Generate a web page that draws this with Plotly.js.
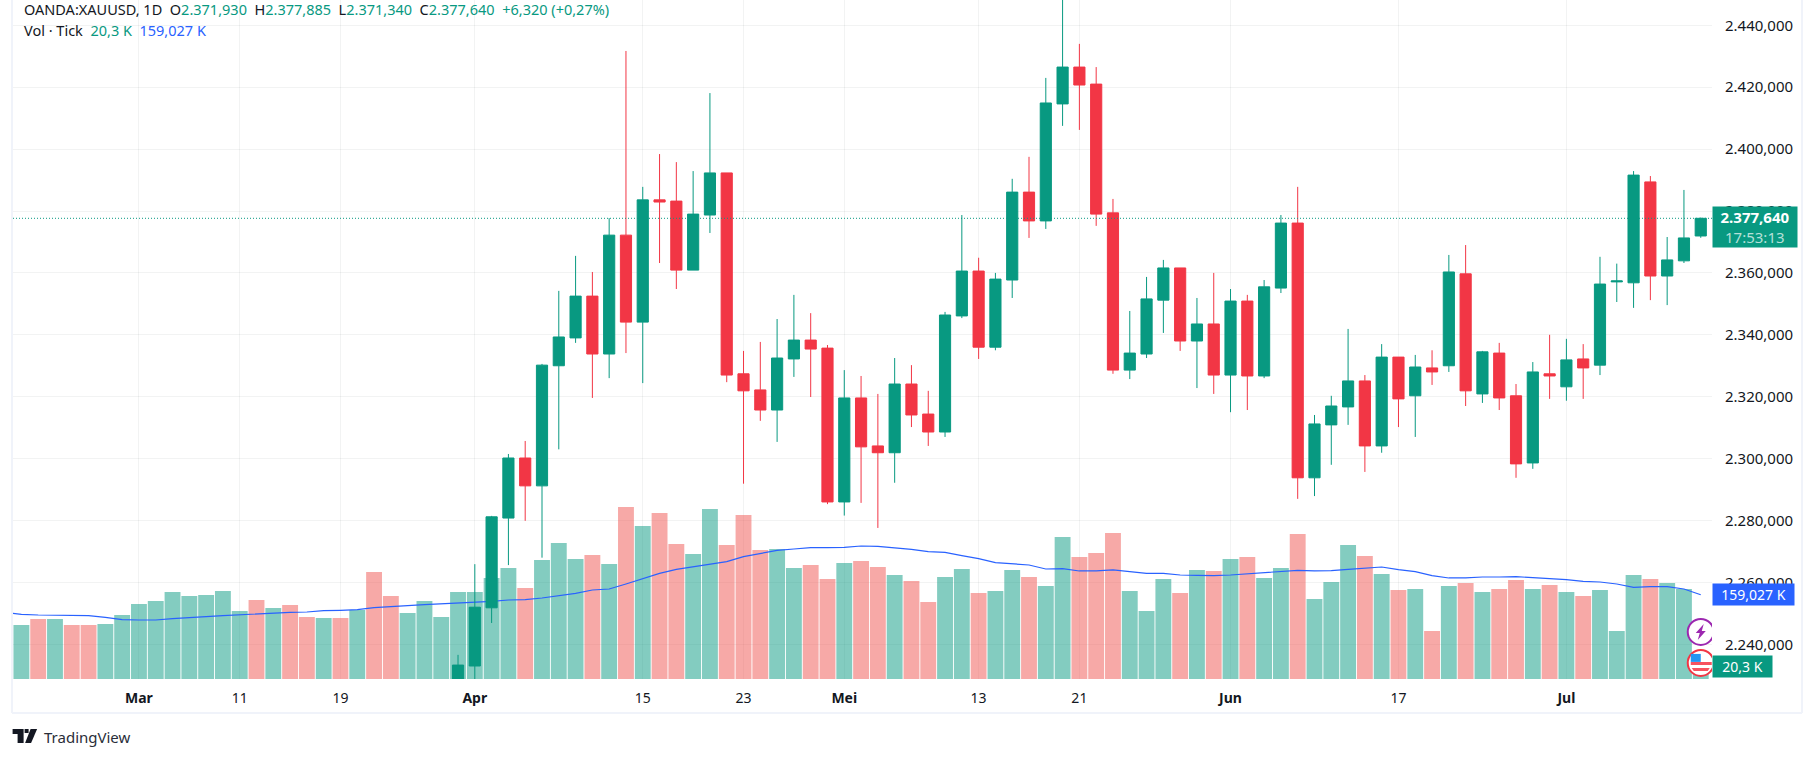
<!DOCTYPE html>
<html>
<head>
<meta charset="utf-8">
<script src="https://cdn.plot.ly/plotly-3.0.1.min.js"></script>
<style>
    html, body { margin: 0; padding: 0; background: #fff; }
    #chart { width: 1815px; height: 758px; }
</style>
</head>
<body>
<div id="chart"></div>
<script>
'use strict';

// candles before index 26 sit below the visible price range
const CANDLE_START = 26;

const opens = [
    2225, 2233.0, 2251.8, 2280.8, 2300.2, 2291.2, 2330, 2339, 2352.5, 2333.8,
    2372.2, 2344.1, 2383.6, 2383.2, 2360.9, 2378.7, 2392.3, 2327.4, 2322.2, 2315.7,
    2332.2, 2338.3, 2335.7, 2286, 2319.6, 2304.1, 2301.9, 2324.1, 2314.4, 2308.6,
    2346.1, 2360.6, 2336, 2357.7, 2386.1, 2376.8, 2414.6, 2426.5, 2421, 2379.4,
    2328.6, 2333.8, 2351.2, 2361.6, 2338, 2343.5, 2327, 2350.9, 2326.7, 2355.1,
    2376.1, 2293.8, 2310.9, 2316.7, 2325.1, 2304.1, 2332.8, 2320.3, 2329.3, 2330,
    2359.7, 2320.9, 2334.1, 2320.3, 2298.6, 2327.4, 2323.2, 2332.2, 2330.2, 2357.1,
    2356.8, 2389.4, 2359, 2363.9, 2371.93
];
const highs = [
    2236.6, 2265.9, 2281.5, 2301.5, 2305.7, 2330.6, 2354.2, 2365.5, 2360.3, 2377.7,
    2431.7, 2387.8, 2398.4, 2395.8, 2392.9, 2418.1, 2392.3, 2334.8, 2337.7, 2345.1,
    2352.9, 2347, 2336.7, 2328.6, 2326.7, 2320.9, 2332.5, 2330.2, 2321.9, 2347.4,
    2378.7, 2364.9, 2360, 2390.4, 2397.5, 2423, 2450, 2434, 2426.5, 2383.9,
    2347.7, 2358.7, 2364.2, 2361.6, 2351.9, 2360, 2354.8, 2352.9, 2357.7, 2378.7,
    2387.8, 2314.1, 2320.3, 2341.9, 2327, 2337, 2332.8, 2333.5, 2335, 2365.8,
    2369, 2334.8, 2337.4, 2324.1, 2331.2, 2340, 2338.7, 2337, 2365.2, 2363,
    2392.9, 2391.3, 2371.6, 2386.8, 2377.885
];
const lows = [
    2220, 2226, 2246.9, 2265.6, 2279.9, 2268, 2303, 2337.4, 2319.6, 2326,
    2334.1, 2324.4, 2363.2, 2354.8, 2360.9, 2372.9, 2324.7, 2291.9, 2312.2, 2305.4,
    2326.4, 2319.9, 2285.3, 2281.6, 2285.7, 2277.6, 2292.2, 2310.2, 2304.1, 2307,
    2345.4, 2332.2, 2335, 2351.9, 2371.3, 2374.2, 2407.5, 2406.2, 2375.2, 2327.4,
    2325.7, 2332.5, 2340.6, 2334.8, 2322.8, 2320.9, 2315, 2315.7, 2326, 2353.5,
    2287, 2287.9, 2298, 2310.9, 2295.7, 2301.9, 2310.2, 2307, 2323.8, 2328,
    2317, 2318, 2315.7, 2293.8, 2296.7, 2319.3, 2318.7, 2319.3, 2327, 2350.6,
    2348.7, 2351.2, 2349.6, 2363.2, 2371.34
];
const closes = [
    2233.3, 2252.0, 2281.2, 2300.2, 2291.2, 2330.2, 2339.3, 2352.5, 2333.8, 2372.2,
    2344.1, 2383.6, 2382.9, 2360.9, 2379, 2392.3, 2327, 2321.9, 2315.7, 2332.5,
    2338.3, 2335.4, 2286, 2319.6, 2303.8, 2301.9, 2324.1, 2314.1, 2308.6, 2346.4,
    2360.6, 2336, 2358, 2386.1, 2376.8, 2414.9, 2426.5, 2420.7, 2379, 2328.6,
    2334.1, 2351.6, 2361.6, 2338, 2343.5, 2327, 2350.9, 2326.7, 2355.5, 2376.1,
    2293.8, 2311.2, 2317, 2325.1, 2304.1, 2332.8, 2319.3, 2329.6, 2328, 2360.3,
    2321.9, 2334.5, 2319.6, 2298.3, 2328, 2326.7, 2331.9, 2329.3, 2356.4, 2357.4,
    2391.6, 2359, 2364.2, 2371.3, 2377.64
];

// tick volume in thousands
const volumes = [
    101.9, 113.2, 113.2, 101.9, 101.9, 103.8, 120.7, 141.5, 147.2, 164.1,
    156.6, 158.5, 166.0, 128.3, 149.0, 134.0, 139.6, 117.0, 115.1, 115.1,
    130.2, 201.9, 156.6, 124.5, 147.2, 117.0, 164.1, 164.1, 190.6, 209.4,
    171.7, 224.5, 256.6, 226.4, 234.0, 217.0, 324.5, 288.7, 313.2, 254.7,
    235.8, 320.7, 252.8, 309.4, 243.4, 245.3, 209.4, 215.1, 188.7, 218.9,
    222.6, 211.3, 196.2, 184.9, 145.3, 192.4, 207.5, 162.3, 166.0, 205.7,
    192.4, 175.5, 267.9, 230.2, 237.7, 275.5, 166.0, 128.3, 188.7, 162.3,
    205.7, 203.8, 226.4, 230.2, 190.6, 209.4, 273.6, 150.9, 183.0, 252.8,
    232.1, 198.1, 167.9, 169.8, 90.6, 175.5, 181.1, 164.1, 169.8, 186.8,
    169.8, 177.3, 164.1, 156.6, 167.9, 90.6, 196.2, 188.7, 181.1, 169.8,
    20.3
];
const volumeUp = [
    1, 0, 1, 0, 0, 1, 1, 1, 1, 1,
    1, 1, 1, 1, 0, 1, 0, 0, 1, 0,
    1, 0, 0, 1, 1, 1, 1, 1, 1, 1,
    0, 1, 1, 1, 0, 1, 0, 1, 0, 0,
    1, 1, 0, 0, 0, 1, 1, 0, 0, 1,
    0, 0, 1, 0, 0, 1, 1, 0, 1, 1,
    0, 1, 1, 0, 0, 0, 1, 1, 1, 0,
    1, 0, 1, 0, 1, 1, 0, 1, 1, 1,
    0, 1, 0, 1, 0, 1, 0, 1, 0, 0,
    1, 0, 1, 0, 1, 1, 1, 0, 1, 1,
    1
];
// first value belongs to the bar just left of the visible range
const volumeMA = [
    125.8,
    122.0, 120.7, 120.7, 120.7, 119.5, 116.3, 111.9, 111.3, 111.3, 113.8,
    116.3, 117.6, 119.5, 121.4, 122.6, 124.5, 125.8, 126.4, 128.9, 129.6,
    130.8, 134.6, 137.1, 138.4, 140.2, 141.5, 143.4, 144.6, 146.5, 149.0,
    149.7, 152.8, 157.2, 161.6, 167.9, 169.8, 179.2, 189.3, 199.4, 206.9,
    211.9, 217.6, 221.4, 230.8, 237.1, 242.8, 245.3, 247.8, 247.8, 248.4,
    250.9, 250.3, 247.2, 244.6, 240.2, 239.0, 232.7, 227.0, 219.5, 217.6,
    215.1, 207.5, 208.2, 203.8, 203.8, 205.7, 202.5, 199.4, 199.4, 196.2,
    195.6, 195.0, 196.2, 198.1, 200.6, 201.9, 205.0, 203.8, 204.4, 206.9,
    209.4, 211.3, 206.3, 202.5, 195.0, 190.6, 190.6, 192.4, 192.4, 193.1,
    191.2, 189.9, 187.4, 184.3, 183.0, 179.2, 172.9, 174.2, 174.2, 169.8,
    159.027
];

const priceTicks = [2240, 2260, 2280, 2300, 2320, 2340, 2360, 2380, 2400, 2420, 2440];
const priceTickLabels = ['2.240,000', '2.260,000', '2.280,000', '2.300,000', '2.320,000', '2.340,000',
    '2.360,000', '2.380,000', '2.400,000', '2.420,000', '2.440,000'];
const timeTicks = [7, 13, 19, 27, 37, 43, 49, 57, 63, 72, 82, 92];
const timeTickLabels = ['<b>Mar</b>', '11', '19', '<b>Apr</b>', '15', '23', '<b>Mei</b>', '13', '21', '<b>Jun</b>', '17', '<b>Jul</b>'];

const LAST_PRICE = 2377.64;
const LAST_VOLUME = 20.3;
const LAST_MA = 159.027;

const GREEN = '#089981';
const RED = '#f23645';
const BLUE = '#2962ff';
const TEXT = '#131722';
const FONT = 'Noto Sans, sans-serif';

const PLOT_LEFT = 13.4, PLOT_RIGHT = 1712, PLOT_BOTTOM = 679;

// page pixels to paper coordinates
function px(x) { return (x - PLOT_LEFT) / (PLOT_RIGHT - PLOT_LEFT); }
function py(y) { return 1 - y / PLOT_BOTTOM; }

function paperLine(x0, y0, x1, y1) {
    return {type: 'line', xref: 'paper', yref: 'paper', x0: px(x0), y0: py(y0), x1: px(x1), y1: py(y1),
        line: {color: '#f0f3fa', width: 2}};
}

function paperPath(points, color) {
    let d = points.map((p, i) => (i ? 'L' : 'M') + px(p[0]) + ',' + py(p[1])).join(' ') + ' Z';
    return {type: 'path', xref: 'paper', yref: 'paper', path: d, fillcolor: color, line: {width: 0}};
}

// icon pieces are pixel offsets around the last bar
function iconCircle(price, color, fill) {
    return {type: 'circle', xref: 'x', yref: 'y2', xsizemode: 'pixel', ysizemode: 'pixel',
        xanchor: 100, yanchor: price, x0: -13, x1: 13, y0: -13, y1: 13,
        fillcolor: fill, line: {color: color, width: 2}};
}

function iconPath(price, d, color) {
    return {type: 'path', xref: 'x', yref: 'y2', xsizemode: 'pixel', ysizemode: 'pixel',
        xanchor: 100, yanchor: price, path: d, fillcolor: color, line: {width: 0}};
}

function sideLabel(y, yref, text, color, w, h, size) {
    return {xref: 'paper', yref: yref, x: 1, y: y, xanchor: 'left', yanchor: 'middle', text: text,
        showarrow: false, bgcolor: color, width: w, height: h, borderpad: 0, align: 'center',
        font: {family: FONT, size: size, color: '#fff'}};
}

const allIndex = volumes.map((v, i) => i);
const maIndex = volumeMA.map((v, i) => i - 1);
const candleIndex = opens.map((v, i) => i + CANDLE_START);

const traces = [
    {
        type: 'bar', x: allIndex, y: volumes, yaxis: 'y', xaxis: 'x',
        marker: {color: volumeUp.map(u => u ? 'rgba(8,153,129,0.5)' : 'rgba(239,83,80,0.5)'), line: {width: 0}},
        hoverinfo: 'skip'
    },
    {
        type: 'scatter', mode: 'lines', x: maIndex, y: volumeMA, yaxis: 'y', xaxis: 'x',
        line: {color: BLUE, width: 1.2}, hoverinfo: 'skip'
    },
    {
        type: 'candlestick', x: candleIndex, open: opens, high: highs, low: lows, close: closes,
        yaxis: 'y2', xaxis: 'x',
        increasing: {line: {color: GREEN, width: 1}, fillcolor: GREEN},
        decreasing: {line: {color: RED, width: 1}, fillcolor: RED},
        hoverinfo: 'skip'
    }
];

const layout = {
    width: 1815,
    height: 758,
    margin: {l: PLOT_LEFT, r: 1815 - PLOT_RIGHT, t: 0, b: 758 - PLOT_BOTTOM, pad: 0},
    paper_bgcolor: '#fff',
    plot_bgcolor: '#fff',
    showlegend: false,
    bargap: 0.055,
    boxgap: 0.05,
    font: {family: FONT, color: TEXT, size: 14},
    xaxis: {
        range: [-0.5, 100.67],
        tickmode: 'array', tickvals: timeTicks, ticktext: timeTickLabels,
        tickangle: 0, ticks: 'outside', ticklen: 6, tickcolor: 'rgba(0,0,0,0)',
        tickfont: {family: FONT, size: 14, color: TEXT},
        showgrid: true, gridcolor: 'rgba(42,46,57,0.06)', gridwidth: 1,
        zeroline: false, showline: false,
        rangeslider: {visible: false}
    },
    yaxis: {
        range: [0, 1281], visible: false, fixedrange: true
    },
    yaxis2: {
        range: [2228.8, 2448.17], overlaying: 'y', side: 'right', anchor: 'x',
        tickmode: 'array', tickvals: priceTicks, ticktext: priceTickLabels,
        ticks: 'outside', ticklen: 9, tickcolor: 'rgba(0,0,0,0)',
        tickfont: {family: FONT, size: 15, color: TEXT},
        showgrid: true, gridcolor: 'rgba(42,46,57,0.06)', gridwidth: 1,
        zeroline: false, showline: false
    },
    shapes: [
        paperLine(12.4, 0, 12.4, 713),
        paperLine(12.4, 713, 1802, 713),
        paperLine(1802, 0, 1802, 713),
        {type: 'line', xref: 'paper', yref: 'y2', x0: 0, x1: 1, y0: LAST_PRICE, y1: LAST_PRICE,
            line: {color: GREEN, width: 1, dash: '1px,2px'}},
        // purple lightning icon
        iconCircle(2244, '#9c27b0', '#fff'),
        iconPath(2244, 'M 3,8 L -5,-1 L -1,-1 L -3,-8 L 5,1 L 1,1 Z', '#9c27b0'),
        // flag icon
        iconCircle(2234, '#f23645', '#fff'),
        iconPath(2234, 'M -10,1 L 11,1 L 11,-2 L -10,-2 Z M -9,-5 L 9,-5 L 7,-8 L -7,-8 Z', '#f7525f'),
        iconPath(2234, 'M -10,9 L 0,9 L 0,1 L -10,1 Z', '#2196f3'),
        // TradingView logo
        paperPath([[13, 729], [24, 729], [24, 743], [18, 743], [18, 734], [13, 734]], TEXT),
        paperPath([[31, 729], [37.5, 729], [31.5, 743], [25.5, 743]], TEXT),
        paperPath([[25, 729], [29, 729], [29, 733], [25, 733]], TEXT)
    ],
    annotations: [
        {xref: 'paper', yref: 'paper', x: px(22), y: py(9), xanchor: 'left', yanchor: 'middle', showarrow: false,
            align: 'left', font: {family: FONT, size: 14.5, color: TEXT},
            text: 'OANDA:XAUUSD, 1D\u00a0\u00a0O<span style="color:#089981">2.371,930</span>\u00a0\u00a0H<span style="color:#089981">2.377,885</span>\u00a0\u00a0L<span style="color:#089981">2.371,340</span>\u00a0\u00a0C<span style="color:#089981">2.377,640</span>\u00a0\u00a0<span style="color:#089981">+6,320 (+0,27%)</span>'},
        {xref: 'paper', yref: 'paper', x: px(22), y: py(30), xanchor: 'left', yanchor: 'middle', showarrow: false,
            align: 'left', font: {family: FONT, size: 14.5, color: TEXT},
            text: 'Vol · Tick\u00a0\u00a0<span style="color:#089981">20,3\u00a0K</span>\u00a0\u00a0<span style="color:#2962ff">159,027\u00a0K</span>'},
        sideLabel(2374.9, 'y2', '<b>2.377,640</b><br><span style="color:#b5e0d8">17:53:13</span>', GREEN, 84, 40, 15),
        sideLabel(LAST_MA, 'y', '159,027\u00a0K', BLUE, 81, 21, 14),
        sideLabel(LAST_VOLUME + 4, 'y', '20,3\u00a0K', GREEN, 59, 21, 14),
        {xref: 'paper', yref: 'paper', x: px(42), y: py(737), xanchor: 'left', yanchor: 'middle', showarrow: false,
            font: {family: FONT, size: 15, color: '#2a2e39'}, text: 'TradingView'}
    ]
};

Plotly.newPlot('chart', traces, layout, {displayModeBar: false, staticPlot: true});
</script>
</body>
</html>
